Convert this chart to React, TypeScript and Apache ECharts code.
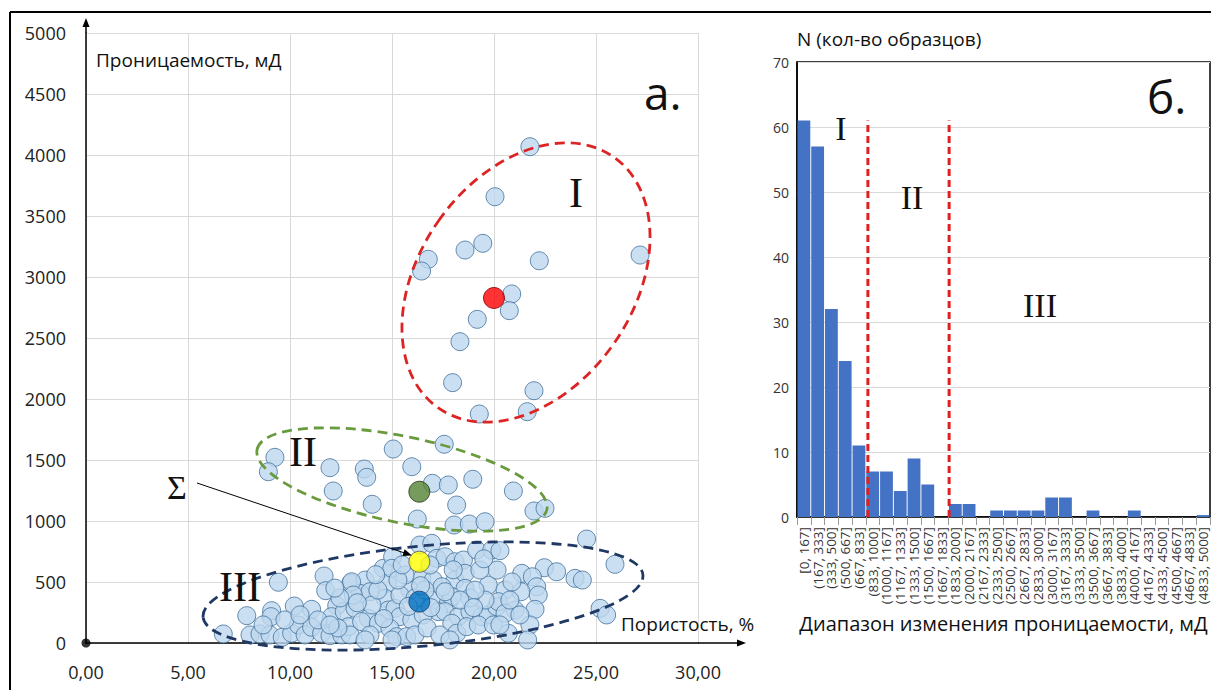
import React, { useEffect, useRef } from "react";
import * as echarts from "echarts";

const FONT = "'Open Sans', 'Noto Sans', sans-serif";
const SERIF = "'Liberation Serif', 'DejaVu Serif', serif";

// ---------- scatter (а.) : porosity %, permeability mD ----------
const clusterI: number[][] = [
  [21.76, 4068], [20.05, 3658], [18.58, 3221], [19.45, 3276], [16.78, 3145], [16.45, 3049],
  [22.22, 3133], [27.16, 3180], [20.87, 2861], [20.75, 2724], [19.18, 2653], [18.33, 2470],
  [17.97, 2134], [21.96, 2068], [19.28, 1877], [21.63, 1896],
];

const clusterII: number[][] = [
  [9.26, 1522], [8.94, 1404], [11.96, 1437], [12.12, 1246], [13.64, 1426], [13.76, 1358],
  [14.03, 1137], [15.06, 1590], [15.97, 1445], [17.56, 1629], [16.98, 1309], [17.76, 1295],
  [18.96, 1342], [18.17, 1131], [16.24, 1016], [18.04, 967], [18.79, 975], [19.56, 994],
  [20.95, 1246], [21.96, 1082], [22.5, 1104],
];

const clusterIII: number[][] = [
  [6.73, 74], [7.88, 224], [8.04, 66], [8.53, 74], [9.02, 66], [9.1, 265], [9.07, 216], [9.43, 498],
  [9.62, 47], [10.08, 80], [10.21, 303], [10.41, 148], [10.74, 66], [11.06, 276], [11.06, 129],
  [11.55, 80], [11.67, 549], [11.75, 429], [11.96, 60], [12.29, 306], [12.04, 216], [12.53, 66],
  [12.66, 257], [12.86, 134], [12.98, 489], [13.68, 516], [13.43, 407], [13.19, 284], [13.84, 202],
  [14.57, 612], [15.03, 707], [14.77, 489], [14.66, 366], [14.82, 270], [16.37, 803], [16.95, 817],
  [14.99, 612], [17.19, 694], [17.6, 707], [18.09, 666], [18.5, 680], [19.15, 762], [19.89, 762],
  [16.46, 530], [17.02, 516], [18.09, 516], [18.58, 571], [18.58, 448], [19.72, 475], [13.02, 502],
  [13.92, 420], [13.1, 393], [15.15, 284], [17.02, 352], [17.76, 325], [17.93, 380], [17.27, 257],
  [17.6, 257], [18.25, 216], [18.82, 257], [19.4, 216], [19.72, 230], [20.13, 298], [13.51, 175],
  [14.33, 161], [15.39, 216], [15.97, 189], [16.53, 230], [12.94, 66], [13.92, 66], [14.9, 120],
  [15.23, 52], [15.72, 52], [16.13, 66], [17.93, 161], [18.17, 80], [18.66, 134], [19.23, 148],
  [19.97, 148], [24.54, 852], [25.93, 645], [20.29, 757], [22.47, 617], [23.07, 584], [23.97, 530],
  [24.33, 516], [21.36, 571], [21.88, 543], [22.09, 461], [20.54, 434], [21.32, 420], [22.17, 393],
  [20.21, 339], [21.03, 270], [22.01, 276], [20.54, 243], [21.76, 148], [20.7, 80], [21.65, 25],
  [25.2, 284], [25.52, 230], [15.88, 434], [15.39, 393], [15.64, 557], [17.45, 461], [11.37, 189],
  [12.35, 123], [14.02, 311], [16.13, 369], [16.72, 123], [17.35, 66], [19.56, 352], [18.82, 369],
  [20.88, 500], [20.15, 598], [8.68, 148], [9.75, 189], [10.49, 230], [12.45, 369], [14.31, 434],
  [15.29, 516], [16.86, 639], [16.62, 434], [18.33, 352], [19.07, 434], [19.31, 598], [20.29, 148],
  [20.78, 352], [21.27, 230], [15.0, 25], [13.68, 25], [11.96, 148], [17.84, 25],
  [14.2, 560], [15.5, 640], [16.9, 290], [18.0, 600], [19.5, 690], [13.3, 330], [15.8, 300],
  [17.6, 420], [19.0, 290], [14.6, 200], [12.2, 450], [16.4, 470],
];

const centroidI: number[][] = [[20.0, 2828]];
const centroidII: number[][] = [[16.34, 1240]];
const centroidSum: number[][] = [[16.34, 666]];
const centroidIII: number[][] = [[16.34, 339]];
const origin: number[][] = [[0, 0]];

// ---------- histogram (б.) ----------
const histCategories: string[] = [
  "[0, 167]", "(167, 333]", "(333, 500]", "(500, 667]", "(667, 833]", "(833, 1000]",
  "(1000, 1167]", "(1167, 1333]", "(1333, 1500]", "(1500, 1667]", "(1667, 1833]", "(1833, 2000]",
  "(2000, 2167]", "(2167, 2333]", "(2333, 2500]", "(2500, 2667]", "(2667, 2833]", "(2833, 3000]",
  "(3000, 3167]", "(3167, 3333]", "(3333, 3500]", "(3500, 3667]", "(3667, 3833]", "(3833, 4000]",
  "(4000, 4167]", "(4167, 4333]", "(4333, 4500]", "(4500, 4667]", "(4667, 4833]", "(4833, 5000]",
];
const histCounts: number[] = [
  61, 57, 32, 24, 11, 7, 7, 4, 9, 5, 0, 2, 2, 0, 1, 1, 1, 1, 3, 3, 0, 1, 0, 0, 1, 0, 0, 0, 0, 0.3,
];
const boundaryA: number[][] = [[5.15, 0], [5.15, 61]];
const boundaryB: number[][] = [[11.05, 0], [11.05, 61]];

const pointStyle = { color: "#BDD7EE", borderColor: "#41719C", borderWidth: 1 };

function txt(text: string, x: number, y: number, size: number, family = FONT, align = "left") {
  return {
    type: "text",
    x,
    y,
    z: 120,
    style: {
      text,
      fontSize: size,
      fontFamily: family,
      fill: "#111",
      textAlign: align,
      textVerticalAlign: "middle",
    },
  };
}

export default function App() {
  const ref = useRef<HTMLDivElement>(null);

  useEffect(() => {
    if (!ref.current) return;
    const chart = echarts.init(ref.current, undefined, { renderer: "svg" });

    const option: any = {
      animation: false,
      backgroundColor: "#fff",
      grid: [
        { left: 86, top: 33, width: 612, height: 610 },
        { left: 797, top: 62, width: 413, height: 455, show: true, borderColor: "#000", borderWidth: 1.5, backgroundColor: "transparent" },
      ],
      xAxis: [
        {
          gridIndex: 0, type: "value", min: 0, max: 30, interval: 5,
          axisLine: { show: true, onZero: false, lineStyle: { color: "#000", width: 1.5 } },
          axisTick: { show: false },
          splitLine: { show: true, lineStyle: { color: "#D9D9D9", width: 1 } },
          axisLabel: {
            fontSize: 18, fontFamily: FONT, color: "#222", margin: 20,
            formatter: (v: number) => v.toFixed(2).replace(".", ","),
          },
        },
        {
          gridIndex: 1, type: "category", data: histCategories,
          axisLine: { show: true, lineStyle: { color: "#000", width: 1.5 } },
          axisTick: { show: true, alignWithLabel: false, length: 8, lineStyle: { color: "#999" } },
          axisLabel: { rotate: 90, interval: 0, fontSize: 13.5, fontFamily: FONT, color: "#333", margin: 10 },
          name: "Диапазон изменения проницаемости, мД",
          nameLocation: "middle", nameGap: 96,
          nameTextStyle: { fontSize: 20, fontFamily: FONT, color: "#111" },
        },
        { gridIndex: 1, type: "value", min: 0, max: 30, show: false },
      ],
      yAxis: [
        {
          gridIndex: 0, type: "value", min: 0, max: 5000, interval: 500,
          axisLine: { show: true, onZero: false, lineStyle: { color: "#000", width: 1.5 } },
          axisTick: { show: false },
          splitLine: { show: true, lineStyle: { color: "#D9D9D9", width: 1 } },
          axisLabel: { fontSize: 18, fontFamily: FONT, color: "#222", margin: 20, formatter: (v: number) => String(v) },
        },
        {
          gridIndex: 1, type: "value", min: 0, max: 70, interval: 10,
          axisLine: { show: true, lineStyle: { color: "#000", width: 1.5 } },
          axisTick: { show: false },
          splitLine: { show: true, lineStyle: { color: "#D9D9D9", width: 1 } },
          axisLabel: { fontSize: 14, fontFamily: FONT, color: "#333", margin: 8 },
        },
      ],
      series: [
        { type: "scatter", xAxisIndex: 0, yAxisIndex: 0, data: clusterIII, symbolSize: 18, itemStyle: pointStyle, clip: false, z: 3 },
        { type: "scatter", xAxisIndex: 0, yAxisIndex: 0, data: clusterII, symbolSize: 18, itemStyle: pointStyle, clip: false, z: 3 },
        { type: "scatter", xAxisIndex: 0, yAxisIndex: 0, data: clusterI, symbolSize: 18, itemStyle: pointStyle, clip: false, z: 3 },
        { type: "scatter", xAxisIndex: 0, yAxisIndex: 0, data: centroidI, symbolSize: 21, itemStyle: { color: "#FF0000", borderColor: "#7a0000", borderWidth: 1 }, z: 5 },
        { type: "scatter", xAxisIndex: 0, yAxisIndex: 0, data: centroidII, symbolSize: 21, itemStyle: { color: "#548235", borderColor: "#1f3310", borderWidth: 1 }, z: 5 },
        { type: "scatter", xAxisIndex: 0, yAxisIndex: 0, data: centroidSum, symbolSize: 21, itemStyle: { color: "#FFFF00", borderColor: "#555", borderWidth: 1 }, z: 5 },
        { type: "scatter", xAxisIndex: 0, yAxisIndex: 0, data: centroidIII, symbolSize: 21, itemStyle: { color: "#0070C0", borderColor: "#1f3864", borderWidth: 1 }, z: 5 },
        { type: "scatter", xAxisIndex: 0, yAxisIndex: 0, data: origin, symbolSize: 9, itemStyle: { color: "#000" }, clip: false, z: 6 },
        {
          type: "bar", xAxisIndex: 1, yAxisIndex: 1, data: histCounts,
          barCategoryGap: "7%", itemStyle: { color: "#4472C4" },
        },
        {
          type: "line", xAxisIndex: 2, yAxisIndex: 1, data: boundaryA, symbol: "none", z: 6,
          lineStyle: { color: "#E0201F", width: 3, type: [7, 4] },
        },
        {
          type: "line", xAxisIndex: 2, yAxisIndex: 1, data: boundaryB, symbol: "none", z: 6,
          lineStyle: { color: "#E0201F", width: 3, type: [7, 4] },
        },
      ],
      graphic: [
        // frame
        { type: "line", z: 130, shape: { x1: 10, y1: 12, x2: 1211, y2: 12 }, style: { stroke: "#000", lineWidth: 2 } },
        { type: "line", z: 130, shape: { x1: 10, y1: 12, x2: 10, y2: 690 }, style: { stroke: "#000", lineWidth: 2 } },
        // axis arrows (scatter)
        { type: "line", z: 110, shape: { x1: 86, y1: 33, x2: 86, y2: 26 }, style: { stroke: "#000", lineWidth: 1.5 } },
        { type: "polygon", z: 110, shape: { points: [[82.5, 27], [86, 18], [89.5, 27]] }, style: { fill: "#000" } },
        { type: "line", z: 110, shape: { x1: 698, y1: 643, x2: 738, y2: 643 }, style: { stroke: "#000", lineWidth: 1.5 } },
        { type: "polygon", z: 110, shape: { points: [[737, 639.5], [746, 643], [737, 646.5]] }, style: { fill: "#000" } },
        // ellipses
        { type: "ellipse", z: 100, x: 526, y: 282.5, rotation: -0.61, shape: { cx: 0, cy: 0, rx: 107, ry: 153 }, style: { fill: "none", stroke: "#DD2424", lineWidth: 2.8, lineDash: [10, 6] } },
        { type: "ellipse", z: 100, x: 402, y: 479.5, rotation: -0.204, shape: { cx: 0, cy: 0, rx: 148, ry: 43 }, style: { fill: "none", stroke: "#6A9A3E", lineWidth: 2.8, lineDash: [10, 6] } },
        { type: "ellipse", z: 100, x: 423, y: 596, rotation: 0.096, shape: { cx: 0, cy: 0, rx: 221, ry: 50 }, style: { fill: "none", stroke: "#1F3864", lineWidth: 2.8, lineDash: [10, 6] } },
        // sigma arrow
        { type: "line", z: 110, shape: { x1: 197, y1: 483, x2: 404, y2: 552.8 }, style: { stroke: "#000", lineWidth: 1 } },
        { type: "polygon", z: 110, shape: { points: [[412, 555.5], [402.4, 555.9], [404.6, 549.3]] }, style: { fill: "#000" } },
        // texts
        txt("Проницаемость, мД", 96, 60, 19),
        txt("а.", 644, 92, 46),
        txt("Пористость, %", 621, 624, 19),
        txt("I", 576, 193, 42, SERIF, "center"),
        txt("II", 303, 452, 42, SERIF, "center"),
        txt("III", 240, 587, 42, SERIF, "center"),
        txt("Σ", 177, 487, 34, SERIF, "center"),
        txt("N (кол-во образцов)", 797, 39, 19),
        txt("б.", 1147, 96, 46),
        txt("I", 841, 128, 34, SERIF, "center"),
        txt("II", 912, 197, 34, SERIF, "center"),
        txt("III", 1040, 305, 34, SERIF, "center"),
      ],
    };

    chart.setOption(option);
    return () => chart.dispose();
  }, []);

  return (
    <div
      ref={ref}
      style={{ position: "fixed", left: 0, top: 0, width: 1211, height: 690, background: "#fff" }}
    />
  );
}
